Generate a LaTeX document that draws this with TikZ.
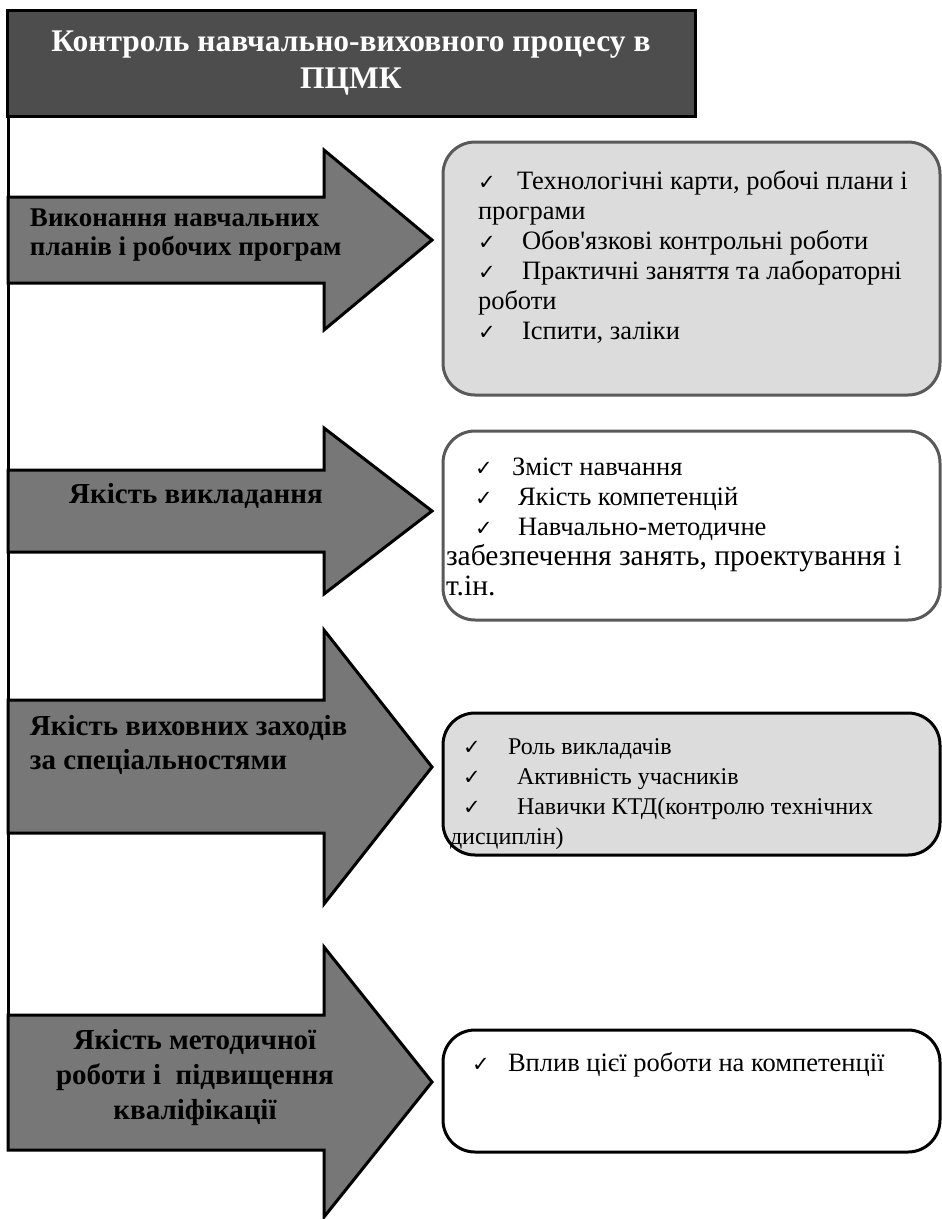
\documentclass[tikz,border=0pt]{standalone}
\usepackage{fontspec}
\setmainfont{Liberation Serif}
\newfontfamily\nolig{Liberation Serif}[Ligatures=TeXOff]
\newfontfamily\ckfont{DejaVu Sans}
\newcommand{\ck}[1]{\makebox[#1][l]{\ckfont\fontsize{21}{21}\selectfont ✓}}
\definecolor{hdrgray}{HTML}{4D4D4D}
\definecolor{arrowgray}{HTML}{777777}
\definecolor{panelgray}{HTML}{DCDCDC}
\definecolor{edgegray}{HTML}{595959}
\begin{document}
\begin{tikzpicture}[x=1pt,y=-1pt,
  hdrbox/.style={draw=black, line width=3pt, fill=hdrgray, minimum width=688pt, minimum height=106pt,
    inner sep=0pt, outer sep=0pt, text=white, font=\bfseries\fontsize{31.5}{37}\selectfont, align=center},
  bigarrow/.style={draw=black, line width=3pt, fill=arrowgray, line join=miter},
  lbl/.style={font=\bfseries\fontsize{29}{34}\selectfont, inner sep=0pt, outer sep=0pt},
  panel/.style={rounded corners=32pt, line width=3pt, inner sep=0pt, outer sep=0pt, anchor=north west, minimum width=497pt},
  item/.style={inner sep=0pt, outer sep=0pt, anchor=north west, align=left, font=\fontsize{26.5}{30}\selectfont}
]
\useasboundingbox (0,0) rectangle (942,1219);

% header
\node[hdrbox] (hdr) at (351,63) {Контроль навчально-виховного процесу в\\ПЦМК};
\coordinate (vend) at (8,1150);
\draw[line width=3pt] (hdr.south west -| vend) -- (vend);

% arrows
\draw[bigarrow] (8,197) -- (324,197) -- (324,150) -- (432,240) -- (324,330) -- (324,283) -- (8,283) -- cycle;
\draw[bigarrow] (8,470) -- (324,470) -- (324,428) -- (432,511) -- (324,594) -- (324,552) -- (8,552) -- cycle;
\draw[bigarrow] (8,700) -- (324,700) -- (324,630) -- (432,767) -- (324,904) -- (324,833) -- (8,833) -- cycle;
\draw[bigarrow] (8,1015) -- (324,1015) -- (324,947) -- (432,1082) -- (324,1217) -- (324,1150) -- (8,1150) -- cycle;

% arrow labels
\node[lbl, anchor=north west, align=left, font=\bfseries\fontsize{27}{29}\selectfont] (l1) at (30,209) {Виконання навчальних\\планів і робочих програм};
\node[lbl, anchor=base] (l2) at (196,503.5) {Якість викладання};
\node[lbl, anchor=north west, align=left] (l3) at (30,715) {Якість виховних заходів\\за спеціальностями};
\node[lbl, anchor=north, align=center, font=\bfseries\fontsize{29}{35}\selectfont] (l4) at (195,1029) {Якість методичної\\роботи і\ \ підвищення\\кваліфікації};

% panels
\node[panel, draw=edgegray, fill=panelgray, minimum height=253pt] (b1) at (443,142) {};
\node[panel, draw=edgegray, fill=white, minimum height=189pt] (b2) at (443,431) {};
\node[panel, draw=black, fill=panelgray, minimum height=142pt] (b3) at (443,713) {};
\node[panel, draw=black, fill=white, minimum height=122pt] (b4) at (443,1030) {};

% panel texts
\node[item] (t1) at (478,171) {\ck{39pt}Технологічні карти, робочі плани і\\програми\\\ck{44pt}Обов{\nolig'}язкові контрольні роботи\\\ck{44pt}Практичні заняття та лабораторні\\роботи\\\ck{44pt}Іспити, заліки};
\node[item] (t2) at (446,458) {\hspace{29pt}\ck{37pt}Зміст навчання\\\hspace{29pt}\ck{43pt}Якість компетенцій\\\hspace{29pt}\ck{43pt}Навчально-методичне\\{\fontsize{29.5}{30}\selectfont забезпечення занять, проектування і}\\{\fontsize{29.5}{30}\selectfont т.ін.}};
\node[item, font=\fontsize{24}{30}\selectfont] (t3) at (450,739) {\hspace{13pt}\ck{45pt}Роль викладачів\\\hspace{13pt}\ck{54pt}Активність учасників\\\hspace{13pt}\ck{54pt}Навички КТД(контролю технічних\\дисциплін)};
\node[item] (t4) at (472,1053) {\ck{36pt}Вплив цієї роботи на компетенції};
\end{tikzpicture}
\end{document}
